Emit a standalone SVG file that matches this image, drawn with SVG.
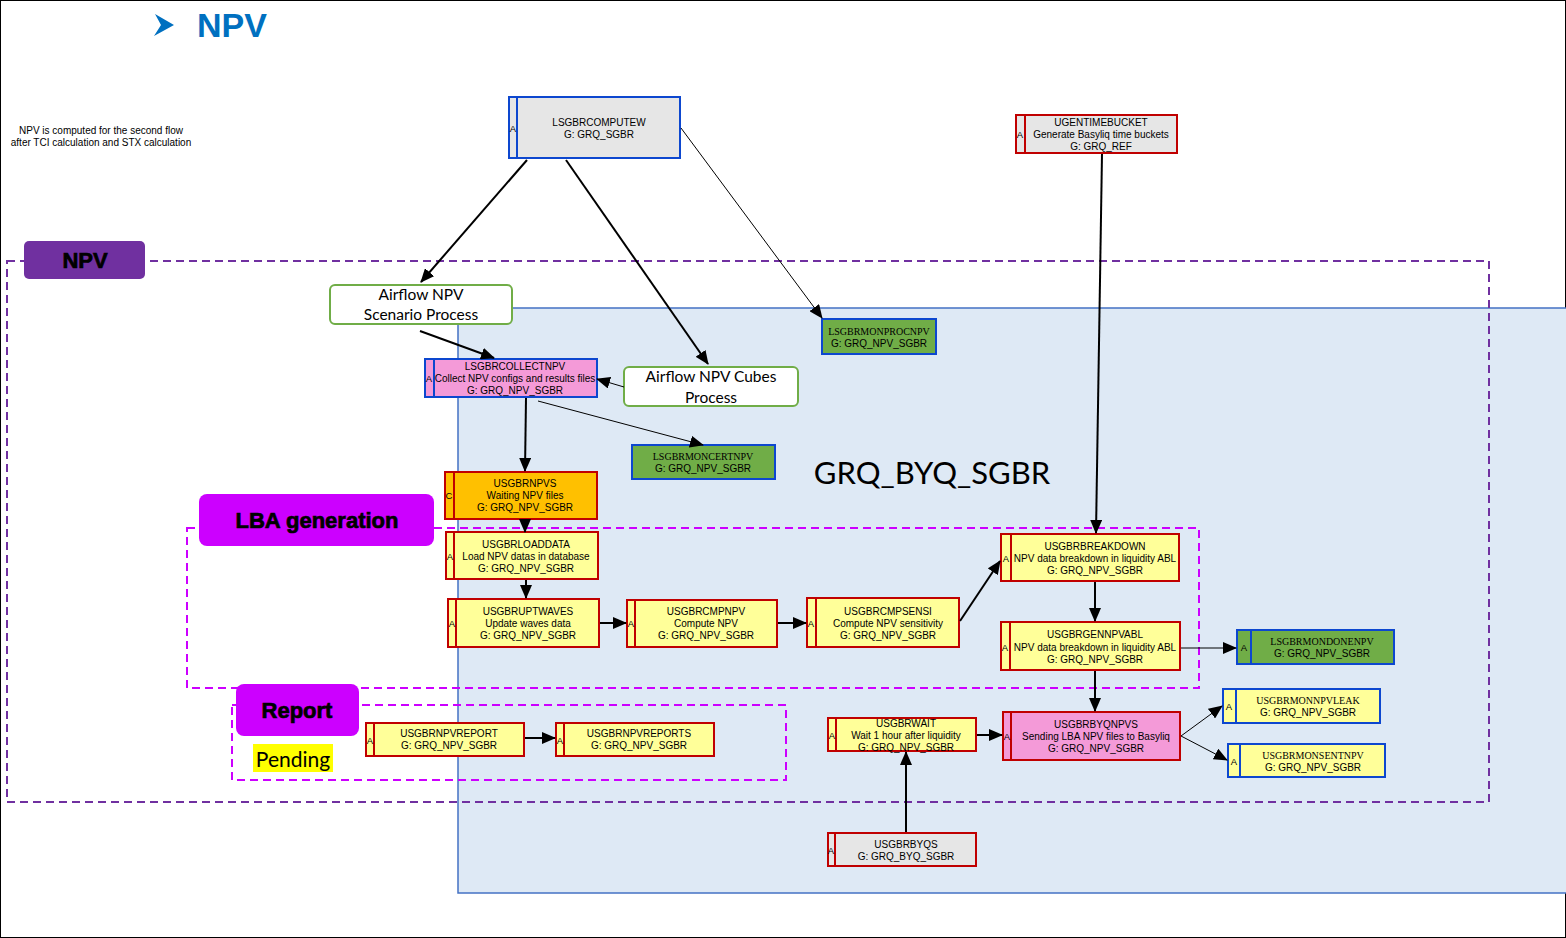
<svg xmlns="http://www.w3.org/2000/svg" width="1566" height="938" viewBox="0 0 1566 938">
<defs>
<style>
.t{font-family:"Liberation Sans",Arial,sans-serif;font-size:10px;text-anchor:middle;fill:#000}
.s{font-family:"Liberation Serif","Times New Roman",serif;font-size:10px;text-anchor:middle;fill:#000}
.a{font-family:"Liberation Sans",Arial,sans-serif;font-size:9.5px;text-anchor:middle;fill:#000}
.box{stroke-width:2}
.red{stroke:#C00000}
.blue{stroke:#0D47CF}
.gray{fill:#E6E6E6}
.yel{fill:#FFFF99}
.pink{fill:#F49AD8}
.org{fill:#FFC000}
.grn{fill:#70AD47}
.dv{stroke-width:2}
.lbl{font-family:"Liberation Sans",Arial,sans-serif;font-weight:bold;font-size:22px;text-anchor:middle;fill:#000;stroke:#000;stroke-width:0.7}
.af{font-family:Lato,"Open Sans",sans-serif;font-size:15.5px;text-anchor:middle;fill:#000}
.c{fill:none;stroke:#000;stroke-width:2;marker-end:url(#ah)}
.c1{fill:none;stroke:#000;stroke-width:1;marker-end:url(#ah)}
</style>
<marker id="ah" markerUnits="userSpaceOnUse" markerWidth="14" markerHeight="12" refX="13" refY="6" orient="auto"><path d="M0,0 L14,6 L0,12 Z" fill="#000"/></marker>
</defs>
<rect x="0.5" y="0.5" width="1565" height="937" fill="#fff" stroke="#000" stroke-width="1"/>

<g id="title">
<path d="M155,14 L174,25 L154,36 L161,25 Z" fill="#0070C0"/>
<text x="197" y="37" font-family="Liberation Sans,Arial,sans-serif" font-weight="bold" font-size="34" fill="#0070C0">NPV</text>
</g>
<g id="note">
<text x="101" y="134" class="t" font-size="9">NPV is computed for the second flow</text>
<text x="101" y="146" class="t" font-size="9">after TCI calculation and STX calculation</text>
</g>

<g id="region-grq-byq">
<rect x="458" y="308" width="1110" height="585" fill="#DEE9F5" stroke="#4472C4" stroke-width="1.5"/>
<text x="932" y="484" font-family="Lato,'Open Sans',sans-serif" font-size="31" text-anchor="middle" fill="#000">GRQ_BYQ_SGBR</text>
</g>

<g id="region-npv">
<rect x="7" y="261" width="1482" height="541" fill="none" stroke="#7030A0" stroke-width="2" stroke-dasharray="8,5"/>
<rect x="24" y="241" width="121" height="38" rx="5" fill="#7030A0"/>
<text x="85" y="268" class="lbl">NPV</text>
</g>
<g id="region-lba">
<rect x="187" y="528" width="1012" height="160" fill="none" stroke="#CC00FF" stroke-width="2" stroke-dasharray="8,5"/>
<rect x="199" y="494" width="235" height="52" rx="8" fill="#CC00FF"/>
<text x="317" y="528" class="lbl">LBA generation</text>
</g>
<g id="region-report">
<rect x="232" y="705" width="554" height="75" fill="none" stroke="#CC00FF" stroke-width="2" stroke-dasharray="8,5"/>
<rect x="236" y="684" width="123" height="52" rx="8" fill="#CC00FF"/>
<text x="297" y="718" class="lbl">Report</text>
<rect x="253" y="744" width="80" height="28" fill="#FFFF00"/>
<text x="293" y="767" font-family="Lato,'Open Sans',sans-serif" font-size="21" text-anchor="middle" fill="#000">Pending</text>
</g>

<g id="LSGBRCOMPUTEW">
<rect x="509" y="97" width="171" height="61" class="box blue gray"/>
<line x1="517" y1="97" x2="517" y2="158" class="dv blue"/>
<text x="513" y="132" class="a" font-size="8.5">A</text>
<text x="599" y="126" class="t">LSGBRCOMPUTEW</text>
<text x="599" y="138" class="t">G:  GRQ_SGBR</text>
</g>

<g id="UGENTIMEBUCKET">
<rect x="1016" y="115" width="161" height="38" class="box red gray"/>
<line x1="1025" y1="115" x2="1025" y2="153" class="dv red"/>
<text x="1020" y="138" class="a" font-size="8.5">A</text>
<text x="1101" y="126" class="t">UGENTIMEBUCKET</text>
<text x="1101" y="138" class="t" font-size="9.5">Generate Basyliq time buckets</text>
<text x="1101" y="150" class="t">G: GRQ_REF</text>
</g>

<g id="airflow-scenario">
<rect x="330" y="285" width="182" height="39" rx="5" fill="#fff" stroke="#70AD47" stroke-width="2"/>
<text x="421" y="300" class="af">Airflow NPV</text>
<text x="421" y="320" class="af">Scenario Process</text>
</g>

<g id="airflow-cubes">
<rect x="624" y="367" width="174" height="39" rx="5" fill="#fff" stroke="#70AD47" stroke-width="2"/>
<text x="711" y="382" class="af">Airflow NPV Cubes</text>
<text x="711" y="403" class="af">Process</text>
</g>

<g id="LSGBRCOLLECTNPV">
<rect x="425" y="359" width="172" height="38" class="box blue pink"/>
<line x1="434" y1="359" x2="434" y2="397" class="dv blue"/>
<text x="429" y="382" class="a" font-size="8.5">A</text>
<text x="515" y="370" class="t" font-size="9.5">LSGBRCOLLECTNPV</text>
<text x="515" y="382" class="t" font-size="9.5">Collect NPV configs and results files</text>
<text x="515" y="394" class="t" font-size="9.5">G: GRQ_NPV_SGBR</text>
</g>

<g id="LSGBRMONPROCNPV">
<rect x="822" y="319" width="114" height="35" class="box blue grn"/>
<text x="879" y="335" class="s">LSGBRMONPROCNPV</text>
<text x="879" y="347" class="t">G: GRQ_NPV_SGBR</text>
</g>

<g id="LSGBRMONCERTNPV">
<rect x="632" y="445" width="143" height="34" class="box blue grn"/>
<text x="703" y="460" class="s">LSGBRMONCERTNPV</text>
<text x="703" y="472" class="t">G: GRQ_NPV_SGBR</text>
</g>

<g id="USGBRNPVS">
<rect x="445" y="472" width="152" height="47" class="box red org"/>
<line x1="454" y1="472" x2="454" y2="519" class="dv red"/>
<text x="449" y="499" class="a" font-size="8.5">C</text>
<text x="525" y="487" class="t">USGBRNPVS</text>
<text x="525" y="499" class="t">Waiting NPV files</text>
<text x="525" y="511" class="t">G:  GRQ_NPV_SGBR</text>
</g>

<g id="USGBRLOADDATA">
<rect x="446" y="532" width="152" height="47" class="box red yel"/>
<line x1="454" y1="532" x2="454" y2="579" class="dv red"/>
<text x="450" y="560" class="a" font-size="8.5">A</text>
<text x="526" y="548" class="t">USGBRLOADDATA</text>
<text x="526" y="560" class="t">Load NPV datas in database</text>
<text x="526" y="572" class="t">G: GRQ_NPV_SGBR</text>
</g>

<g id="USGBRUPTWAVES">
<rect x="448" y="599" width="151" height="48" class="box red yel"/>
<line x1="456" y1="599" x2="456" y2="647" class="dv red"/>
<text x="452" y="627" class="a" font-size="8.5">A</text>
<text x="528" y="615" class="t">USGBRUPTWAVES</text>
<text x="528" y="627" class="t">Update waves data</text>
<text x="528" y="639" class="t">G: GRQ_NPV_SGBR</text>
</g>

<g id="USGBRCMPNPV">
<rect x="627" y="600" width="150" height="47" class="box red yel"/>
<line x1="635" y1="600" x2="635" y2="647" class="dv red"/>
<text x="631" y="627" class="a" font-size="8.5">A</text>
<text x="706" y="615" class="t">USGBRCMPNPV</text>
<text x="706" y="627" class="t">Compute NPV</text>
<text x="706" y="639" class="t">G: GRQ_NPV_SGBR</text>
</g>

<g id="USGBRCMPSENSI">
<rect x="807" y="598" width="152" height="49" class="box red yel"/>
<line x1="816" y1="598" x2="816" y2="647" class="dv red"/>
<text x="811" y="627" class="a" font-size="8.5">A</text>
<text x="888" y="615" class="t">USGBRCMPSENSI</text>
<text x="888" y="627" class="t">Compute NPV sensitivity</text>
<text x="888" y="639" class="t">G: GRQ_NPV_SGBR</text>
</g>

<g id="USGBRBREAKDOWN">
<rect x="1001" y="534" width="178" height="47" class="box red yel"/>
<line x1="1011" y1="534" x2="1011" y2="581" class="dv red"/>
<text x="1006" y="562" class="a" font-size="8.5">A</text>
<text x="1095" y="550" class="t">USGBRBREAKDOWN</text>
<text x="1095" y="562" class="t">NPV data breakdown in liquidity ABL</text>
<text x="1095" y="574" class="t">G: GRQ_NPV_SGBR</text>
</g>

<g id="USGBRGENNPVABL">
<rect x="1001" y="622" width="179" height="48" class="box red yel"/>
<line x1="1010" y1="622" x2="1010" y2="670" class="dv red"/>
<text x="1005" y="651" class="a" font-size="8.5">A</text>
<text x="1095" y="638" class="t">USGBRGENNPVABL</text>
<text x="1095" y="651" class="t">NPV data breakdown in liquidity ABL</text>
<text x="1095" y="663" class="t">G: GRQ_NPV_SGBR</text>
</g>

<g id="LSGBRMONDONENPV">
<rect x="1237" y="630" width="157" height="34" class="box blue grn"/>
<line x1="1251" y1="630" x2="1251" y2="664" class="dv blue"/>
<text x="1244" y="651" class="a" font-size="9">A</text>
<text x="1322" y="645" class="s">LSGBRMONDONENPV</text>
<text x="1322" y="657" class="t">G: GRQ_NPV_SGBR</text>
</g>

<g id="USGBRWAIT">
<rect x="828" y="718" width="148" height="33" class="box red yel"/>
<line x1="836" y1="718" x2="836" y2="751" class="dv red"/>
<text x="832" y="739" class="a" font-size="8.5">A</text>
<text x="906" y="727" class="t">USGBRWAIT</text>
<text x="906" y="739" class="t">Wait 1 hour after liquidity</text>
<text x="906" y="751" class="t">G: GRQ_NPV_SGBR</text>
</g>

<g id="USGBRBYQNPVS">
<rect x="1003" y="712" width="177" height="48" class="box red pink"/>
<line x1="1011" y1="712" x2="1011" y2="760" class="dv red"/>
<text x="1007" y="740" class="a" font-size="8.5">A</text>
<text x="1096" y="728" class="t">USGBRBYQNPVS</text>
<text x="1096" y="740" class="t">Sending LBA NPV files to Basyliq</text>
<text x="1096" y="752" class="t">G: GRQ_NPV_SGBR</text>
</g>

<g id="USGBRMONNPVLEAK">
<rect x="1223" y="689" width="157" height="34" class="box blue yel"/>
<line x1="1236" y1="689" x2="1236" y2="723" class="dv blue"/>
<text x="1229" y="710" class="a" font-size="9">A</text>
<text x="1308" y="704" class="s">USGBRMONNPVLEAK</text>
<text x="1308" y="716" class="t">G: GRQ_NPV_SGBR</text>
</g>

<g id="USGBRMONSENTNPV">
<rect x="1228" y="744" width="157" height="33" class="box blue yel"/>
<line x1="1240" y1="744" x2="1240" y2="777" class="dv blue"/>
<text x="1234" y="765" class="a" font-size="9">A</text>
<text x="1313" y="759" class="s">USGBRMONSENTNPV</text>
<text x="1313" y="771" class="t">G: GRQ_NPV_SGBR</text>
</g>

<g id="USGBRBYQS">
<rect x="828" y="833" width="148" height="33" class="box red gray"/>
<line x1="835" y1="833" x2="835" y2="866" class="dv red"/>
<text x="831" y="854" class="a" font-size="8.5">A</text>
<text x="906" y="848" class="t">USGBRBYQS</text>
<text x="906" y="860" class="t">G: GRQ_BYQ_SGBR</text>
</g>

<g id="USGBRNPVREPORT">
<rect x="366" y="723" width="158" height="33" class="box red yel"/>
<line x1="374" y1="723" x2="374" y2="756" class="dv red"/>
<text x="370" y="744" class="a" font-size="8.5">A</text>
<text x="449" y="737" class="t">USGBRNPVREPORT</text>
<text x="449" y="749" class="t">G: GRQ_NPV_SGBR</text>
</g>

<g id="USGBRNPVREPORTS">
<rect x="556" y="723" width="158" height="33" class="box red yel"/>
<line x1="564" y1="723" x2="564" y2="756" class="dv red"/>
<text x="560" y="744" class="a" font-size="8.5">A</text>
<text x="639" y="737" class="t">USGBRNPVREPORTS</text>
<text x="639" y="749" class="t">G: GRQ_NPV_SGBR</text>
</g>

<g id="connectors">
<line x1="527" y1="160" x2="421" y2="282" class="c"/>
<line x1="566" y1="160" x2="708" y2="364" class="c"/>
<line x1="681" y1="128" x2="822" y2="318" class="c1"/>
<line x1="1102" y1="154" x2="1096" y2="533" class="c"/>
<line x1="420" y1="331" x2="494" y2="358" class="c"/>
<line x1="624" y1="387" x2="597" y2="379" class="c1"/>
<line x1="526" y1="398" x2="525" y2="471" class="c"/>
<line x1="538" y1="401" x2="703" y2="445" class="c1"/>
<line x1="525" y1="520" x2="525" y2="532" class="c"/>
<line x1="526" y1="580" x2="526" y2="598" class="c"/>
<line x1="600" y1="623" x2="626" y2="623" class="c"/>
<line x1="778" y1="623" x2="806" y2="623" class="c"/>
<line x1="960" y1="621" x2="1000" y2="561" class="c"/>
<line x1="1095" y1="582" x2="1095" y2="621" class="c"/>
<line x1="1181" y1="648" x2="1236" y2="648" class="c1"/>
<line x1="1095" y1="671" x2="1095" y2="711" class="c"/>
<line x1="977" y1="735" x2="1002" y2="735" class="c"/>
<line x1="906" y1="832" x2="906" y2="752" class="c"/>
<line x1="1181" y1="736" x2="1222" y2="706" class="c1"/>
<line x1="1181" y1="736" x2="1227" y2="760" class="c1"/>
<line x1="525" y1="738" x2="555" y2="738" class="c"/>
</g>
</svg>
